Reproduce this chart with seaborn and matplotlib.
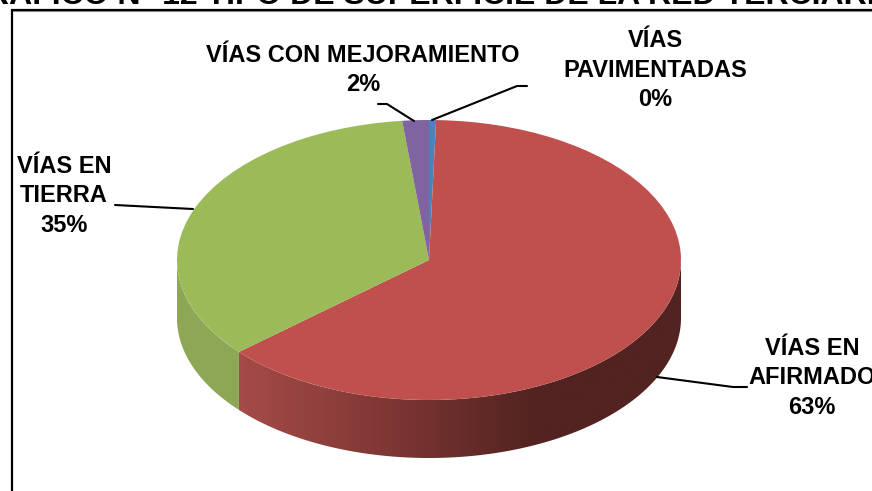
import matplotlib.pyplot as plt
import matplotlib.patches as mpatches
from matplotlib.colors import LinearSegmentedColormap
import seaborn as sns
import numpy as np

sns.set_theme(style='white')
plt.rcParams['font.family'] = ['Liberation Sans', 'DejaVu Sans']

title = 'GRÁFICO N° 12 TIPO DE SUPERFICIE DE LA RED TERCIARIA'
categories = ['VÍAS\nPAVIMENTADAS', 'VÍAS EN\nAFIRMADO', 'VÍAS EN\nTIERRA', 'VÍAS CON MEJORAMIENTO']
values = [0.45, 63.15, 34.7, 1.7]
colors = sns.color_palette(['#4F81BD', '#C0504D', '#9BBB59', '#8064A2'])

W, H = 872, 491
cx, cy = 429, 260   # centre of the top ellipse, pixels
rx, ry = 252, 140
depth = 58 / ry

fig = plt.figure(figsize=(W / 100, H / 100), dpi=100, facecolor='white')
ax = fig.add_axes([0, 0, 1, 1])
wedges, _ = ax.pie(values, colors=colors, startangle=90, counterclock=False,
                   wedgeprops={'linewidth': 0}, normalize=True)
for w in wedges:
    w.set_zorder(5)
ax.set_aspect('auto')
xlim = (-cx / rx, (W - cx) / rx)
ylim = (-(H - cy) / ry, cy / ry)


def side(t0, t1):
    t = np.radians(np.linspace(t0, t1, 200))
    top = np.column_stack([np.cos(t), np.sin(t)])
    low = np.column_stack([np.cos(t[::-1]), np.sin(t[::-1]) - depth])
    return np.vstack([top, low])


split = wedges[1].theta1 % 360
ax.fill(*side(180, split).T, color='#8DA757', lw=0, zorder=2)

red_side = mpatches.Polygon(side(split, 360), closed=True, transform=ax.transData, fc='none', ec='none')
ax.add_patch(red_side)
cmap = LinearSegmentedColormap.from_list('side', ['#A54B49', '#7F3734', '#522320', '#522320'])
grad = ax.imshow(np.linspace(0, 1, 256).reshape(1, -1), cmap=cmap, aspect='auto', zorder=2,
                 extent=(np.cos(np.radians(split)), 1, -2, 1))
grad.set_clip_path(red_side)
ax.set_xlim(xlim)
ax.set_ylim(ylim)
ax.axis('off')

# overlay in pixel coordinates for the frame, labels and leaders
ov = fig.add_axes([0, 0, 1, 1], zorder=10)
ov.set_xlim(0, W)
ov.set_ylim(H, 0)
ov.axis('off')
ov.patch.set_alpha(0)

ov.plot([13, W], [11, 11], color='#999999', lw=0.8)
ov.plot([12, 12, W], [H, 9.5, 9.5], color='black', lw=1.6, solid_joinstyle='miter')
ov.text(430, 3.5, title, ha='center', va='baseline', fontsize=23, fontweight='bold', color='black', clip_on=False)

leaders = [
    ([527, 517, 432], [86, 86, 120]),
    ([378, 387, 414], [104, 104, 121]),
    ([115, 193], [205, 209]),
    ([747, 733, 657], [387, 387, 377]),
]
for xs, ys in leaders:
    ov.plot(xs, ys, color='black', lw=1.5)

label_pos = [(655, 70), (812, 378), (64, 196), (363, 70)]
for name, val, (x, y) in zip(categories, values, label_pos):
    ov.text(x, y, f'{name}\n{val:.0f}%', ha='center', va='center', fontsize=17, fontweight='bold',
            color='black', linespacing=1.38)

fig.savefig('out.png', dpi=100)
